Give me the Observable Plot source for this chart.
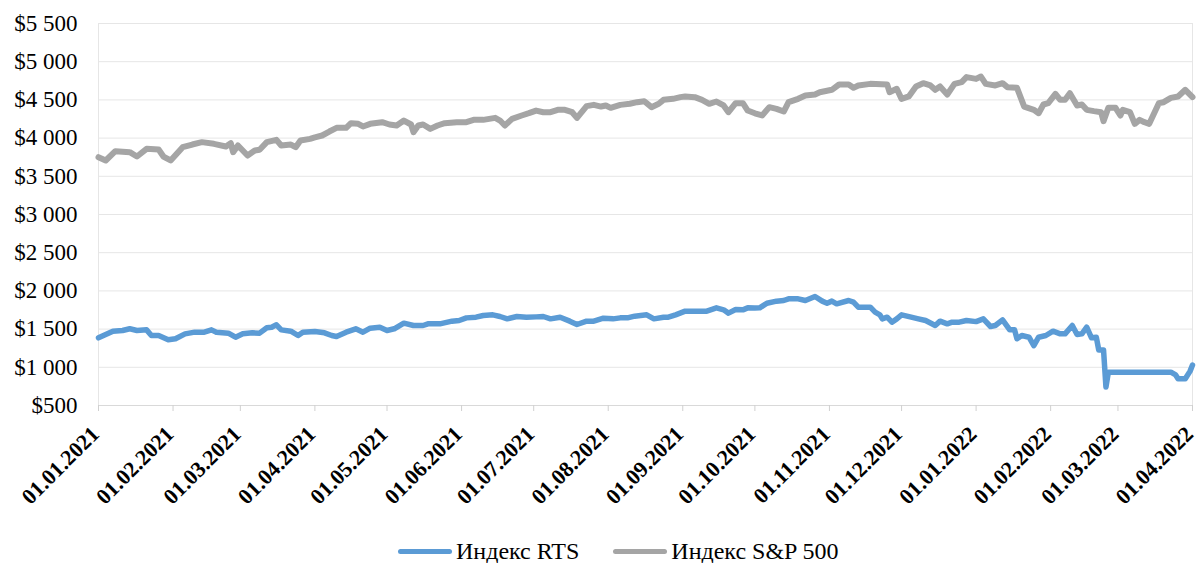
<!DOCTYPE html>
<html>
<head>
<meta charset="utf-8">
<script src="https://cdn.jsdelivr.net/npm/d3@7"></script>
<script src="https://cdn.jsdelivr.net/npm/@observablehq/plot@0.6"></script>
<style>
  html, body { margin: 0; padding: 0; background: #fff; }
  #wrap { position: relative; width: 1197px; height: 563px; font-family: "Liberation Serif", "Tinos", "Times New Roman", "DejaVu Serif", serif; }
  #chart svg, #chart svg text { font-family: "Liberation Serif", "Tinos", "Times New Roman", "DejaVu Serif", serif !important; }
  #legend { position: absolute; left: 398px; top: 537px; height: 28px; display: flex; align-items: center; font-size: 24px; color: #000; white-space: nowrap; }
  .sw { display: inline-block; width: 54px; height: 5px; border-radius: 3px; margin-right: 4px; }
  .item { display: flex; align-items: center; margin-right: 34px; }
</style>
</head>
<body>
<div id="wrap">
  <div id="chart"></div>
  <div id="legend"></div>
</div>
<script>
// ---- Data ----
const seriesNames = ["Индекс RTS", "Индекс S&P 500"];
const seriesColors = ["#5b9bd5", "#a5a5a5"];

const spDates = ["2021-01-01","2021-01-04","2021-01-08","2021-01-14","2021-01-17","2021-01-21","2021-01-26","2021-01-28","2021-01-31",
"2021-02-05","2021-02-09","2021-02-13","2021-02-18","2021-02-23","2021-02-25","2021-02-26","2021-02-28",
"2021-03-04","2021-03-07","2021-03-09","2021-03-12","2021-03-16","2021-03-18","2021-03-22","2021-03-24","2021-03-26","2021-03-30",
"2021-04-01","2021-04-04","2021-04-07","2021-04-10","2021-04-14","2021-04-16","2021-04-19","2021-04-21","2021-04-24","2021-04-29",
"2021-05-02","2021-05-05","2021-05-08","2021-05-11","2021-05-12","2021-05-14","2021-05-16","2021-05-19","2021-05-22","2021-05-25","2021-05-30",
"2021-06-03","2021-06-06","2021-06-10","2021-06-15","2021-06-17","2021-06-19","2021-06-22","2021-06-26","2021-06-29",
"2021-07-02","2021-07-05","2021-07-08","2021-07-11","2021-07-14","2021-07-17","2021-07-19","2021-07-23","2021-07-26","2021-07-29","2021-07-31",
"2021-08-02","2021-08-06","2021-08-10","2021-08-13","2021-08-16","2021-08-19","2021-08-22","2021-08-24","2021-08-28","2021-08-31",
"2021-09-02","2021-09-06","2021-09-09","2021-09-12","2021-09-15","2021-09-18","2021-09-20","2021-09-23","2021-09-26","2021-09-28",
"2021-10-01","2021-10-04","2021-10-07","2021-10-10","2021-10-13","2021-10-15","2021-10-19","2021-10-22","2021-10-26","2021-10-28",
"2021-11-02","2021-11-05","2021-11-09","2021-11-11","2021-11-13","2021-11-18","2021-11-25","2021-11-26","2021-11-29",
"2021-12-01","2021-12-04","2021-12-07","2021-12-10","2021-12-13","2021-12-15","2021-12-17","2021-12-20","2021-12-23","2021-12-26","2021-12-28",
"2022-01-01","2022-01-03","2022-01-05","2022-01-09","2022-01-12","2022-01-14","2022-01-18","2022-01-21","2022-01-25","2022-01-27","2022-01-29","2022-01-31",
"2022-02-03","2022-02-05","2022-02-07","2022-02-09","2022-02-12","2022-02-14","2022-02-16","2022-02-19","2022-02-22","2022-02-23","2022-02-25","2022-02-28",
"2022-03-02","2022-03-03","2022-03-06","2022-03-08","2022-03-10","2022-03-12","2022-03-14","2022-03-18","2022-03-20","2022-03-23","2022-03-26","2022-03-29","2022-04-01"];
const spValues = [3750,3707,3829,3816,3759,3860,3851,3759,3707,
3881,3916,3947,3925,3890,3934,3816,3903,
3772,3838,3847,3947,3977,3903,3916,3881,3969,3990,
4010,4034,4086,4134,4134,4195,4187,4152,4187,4208,
4178,4165,4230,4178,4078,4165,4178,4121,4165,4195,4208,
4208,4239,4239,4265,4230,4165,4252,4296,4326,
4360,4339,4339,4370,4370,4339,4265,4418,4435,4413,4427,
4396,4435,4449,4470,4483,4405,4449,4501,4514,4536,
4545,4536,4501,4449,4479,4427,4339,4457,4457,4361,
4325,4296,4405,4383,4348,4470,4514,4558,4571,4601,
4632,4702,4702,4658,4689,4710,4702,4601,4645,
4514,4545,4676,4719,4689,4632,4676,4571,4710,4732,4798,
4775,4806,4710,4689,4719,4667,4658,4413,4370,4326,4440,4457,
4579,4501,4501,4588,4427,4440,4370,4353,4339,4222,4396,4396,
4296,4370,4339,4187,4239,4208,4187,4457,4470,4527,4545,4632,4536];

const rtsDates = ["2021-01-01","2021-01-04","2021-01-07","2021-01-11","2021-01-14","2021-01-17","2021-01-21","2021-01-23","2021-01-26","2021-01-30",
"2021-02-02","2021-02-06","2021-02-10","2021-02-14","2021-02-17","2021-02-19","2021-02-24","2021-02-27",
"2021-03-02","2021-03-06","2021-03-09","2021-03-12","2021-03-14","2021-03-16","2021-03-18","2021-03-22","2021-03-25","2021-03-27",
"2021-04-01","2021-04-05","2021-04-08","2021-04-10","2021-04-14","2021-04-18","2021-04-21","2021-04-24","2021-04-28",
"2021-05-01","2021-05-04","2021-05-08","2021-05-12","2021-05-16","2021-05-18","2021-05-23","2021-05-28","2021-05-31",
"2021-06-03","2021-06-07","2021-06-10","2021-06-14","2021-06-17","2021-06-20","2021-06-24","2021-06-28",
"2021-07-02","2021-07-05","2021-07-08","2021-07-12","2021-07-16","2021-07-19","2021-07-23","2021-07-26","2021-07-30",
"2021-08-03","2021-08-06","2021-08-09","2021-08-12","2021-08-17","2021-08-20","2021-08-24","2021-08-26","2021-08-29",
"2021-09-02","2021-09-06","2021-09-11","2021-09-15","2021-09-18","2021-09-20","2021-09-23","2021-09-26","2021-09-28",
"2021-10-01","2021-10-03","2021-10-06","2021-10-10","2021-10-13","2021-10-15","2021-10-19","2021-10-22","2021-10-26","2021-10-29","2021-10-31",
"2021-11-02","2021-11-04","2021-11-09","2021-11-11","2021-11-13","2021-11-18","2021-11-20","2021-11-22","2021-11-23","2021-11-25","2021-11-27","2021-11-29",
"2021-12-01","2021-12-05","2021-12-08","2021-12-11","2021-12-15","2021-12-17","2021-12-20","2021-12-22","2021-12-25","2021-12-28",
"2022-01-01","2022-01-04","2022-01-07","2022-01-09","2022-01-12","2022-01-15","2022-01-17","2022-01-18","2022-01-20","2022-01-23","2022-01-25","2022-01-27","2022-01-30",
"2022-02-02","2022-02-05","2022-02-07","2022-02-10","2022-02-12","2022-02-14","2022-02-16","2022-02-18","2022-02-20","2022-02-21","2022-02-23","2022-02-24","2022-02-25",
"2022-03-23","2022-03-25","2022-03-26","2022-03-29","2022-03-31","2022-04-01"];
const rtsValues = [1386,1429,1473,1482,1504,1482,1490,1416,1416,1360,
1373,1438,1460,1460,1490,1460,1447,1394,
1438,1451,1447,1517,1525,1556,1490,1473,1416,1460,
1468,1451,1416,1403,1460,1504,1460,1512,1525,
1482,1504,1578,1547,1547,1569,1569,1604,1613,
1647,1656,1678,1687,1665,1634,1665,1656,
1660,1665,1634,1656,1604,1560,1604,1604,1643,
1634,1647,1647,1669,1687,1634,1656,1656,1687,
1735,1735,1735,1778,1752,1709,1756,1752,1778,
1776,1778,1839,1866,1874,1896,1896,1874,1927,1866,1839,
1866,1831,1874,1852,1787,1787,1722,1687,1634,1656,1591,1634,
1687,1656,1634,1613,1547,1604,1569,1591,1591,1613,
1598,1634,1534,1547,1621,1490,1490,1373,1416,1394,1285,1394,1416,
1473,1438,1438,1547,1429,1438,1525,1386,1394,1228,1228,742,936,
936,900,850,850,950,1030];

const yTicks = [500,1000,1500,2000,2500,3000,3500,4000,4500,5000,5500];
const xStart = "2021-01-01", xEnd = "2022-04-01";

// ---- Build tables ----
const parse = d3.utcParse("%Y-%m-%d");
const sp = spDates.map((d, i) => ({date: parse(d), value: spValues[i]}));
const rts = rtsDates.map((d, i) => ({date: parse(d), value: rtsValues[i]}));
const monthTicks = d3.utcMonth.range(parse(xStart), d3.utcDay.offset(parse(xEnd), 1));
const fmtY = v => "$" + d3.format(",")(v).replace(/,/g, " ");
const fmtX = d3.utcFormat("%d.%m.%Y");
const serif = "'Liberation Serif', 'Tinos', 'Times New Roman', 'DejaVu Serif', serif";

const chart = Plot.plot({
  width: 1197,
  height: 520,
  marginTop: 23,
  marginBottom: 115,
  marginLeft: 98,
  marginRight: 5,
  style: {fontFamily: serif, background: "#fff", overflow: "visible"},
  x: {type: "utc", domain: [parse(xStart), parse(xEnd)], axis: null},
  y: {domain: [500, 5500], axis: null},
  marks: [
    Plot.gridY(yTicks, {stroke: "#e6e6e6", strokeOpacity: 1}),
    Plot.ruleX([parse(xStart), parse(xEnd)], {stroke: "#e6e6e6"}),
    Plot.ruleY([500], {stroke: "#d9d9d9"}),
    Plot.axisX({ticks: monthTicks, tickSize: 6, tickFormat: () => "", color: "#d0d0d0", label: null}),
    Plot.axisY({ticks: yTicks, tickSize: 0, tickPadding: 21, tickFormat: fmtY, fontSize: 23, color: "#000", label: null, fontFamily: serif}),
    Plot.text(monthTicks, {x: d => d, text: d => fmtX(d), frameAnchor: "bottom", rotate: -45, textAnchor: "end", lineAnchor: "middle", dx: -3, dy: 25, fontSize: 22, fontWeight: "bold", fill: "#000", fontFamily: serif}),
    Plot.line(sp, {x: "date", y: "value", stroke: seriesColors[1], strokeWidth: 6, strokeLinejoin: "round", strokeLinecap: "round"}),
    Plot.line(rts, {x: "date", y: "value", stroke: seriesColors[0], strokeWidth: 5.5, strokeLinejoin: "round", strokeLinecap: "round"})
  ]
});
document.getElementById("chart").appendChild(chart);

const legend = document.getElementById("legend");
seriesNames.forEach((n, i) => {
  const it = document.createElement("div");
  it.className = "item";
  const sw = document.createElement("span");
  sw.className = "sw";
  sw.style.background = seriesColors[i];
  const t = document.createElement("span");
  t.textContent = n;
  it.appendChild(sw); it.appendChild(t);
  legend.appendChild(it);
});
</script>
</body>
</html>
